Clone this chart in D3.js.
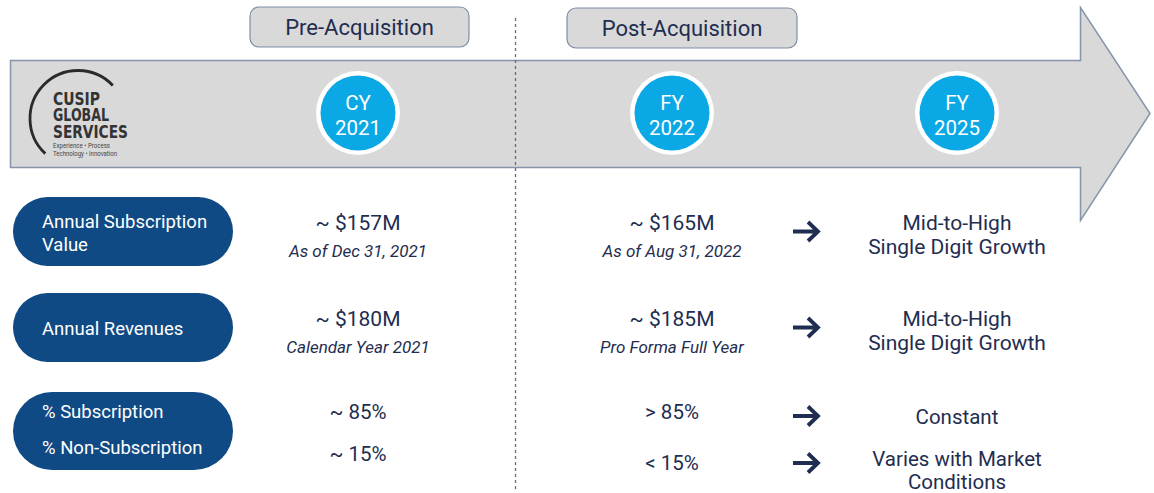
<!DOCTYPE html>
<html><head><meta charset="utf-8">
<script src="https://cdn.jsdelivr.net/npm/d3@7"></script>
<style>
html,body{margin:0;padding:0;background:#fff;}
svg{display:block;font-family:Roboto,"Open Sans",sans-serif;}
</style></head>
<body>
<script>
// ---- data ----
const phases = ["Pre-Acquisition", "Post-Acquisition"];
const periods = [["CY","2021"],["FY","2022"],["FY","2025"]];
const rowLabels = [["Annual Subscription","Value"],["Annual Revenues"],["% Subscription","% Non-Subscription"]];
const preValues = ["~ $157M", "~ $180M"];
const preNotes = ["As of Dec 31, 2021", "Calendar Year 2021"];
const postValues = ["~ $165M", "~ $185M"];
const postNotes = ["As of Aug 31, 2022", "Pro Forma Full Year"];
const outlook = [["Mid-to-High","Single Digit Growth"],["Mid-to-High","Single Digit Growth"]];
const mixPre = ["~ 85%", "~ 15%"];
const mixPost = ["> 85%", "< 15%"];
const mixOutlook = [["Constant"], ["Varies with Market","Conditions"]];
const logoWords = ["CUSIP","GLOBAL","SERVICES"];
const logoTagline = ["Experience • Process","Technology • Innovation"];

const W = 1154, H = 493;
const navy = "#1f2d50", pillBlue = "#0f4a84", circBlue = "#0aa8e4";
const svg = d3.select("body").append("svg").attr("width", W).attr("height", H);

// scales
const colX = d3.scaleOrdinal().domain(["pre","post","arrow","out"]).range([358, 672, 806, 957]);
const periodX = d3.scaleOrdinal().domain(periods.map(d=>d.join(" "))).range([358, 672, 957]);
const phaseX = d3.scaleOrdinal().domain(phases).range([[250,469],[567,797]]);
const rowY = d3.scaleOrdinal().domain([0,1,2]).range([[197,266],[293,362],[392,470]]);
const labelLineY = [[227.5,250.5],[334.5],[417.5,453.5]];

// big arrow
const ap = d3.path();
ap.moveTo(10.5,60.5); ap.lineTo(1080.5,60.5); ap.lineTo(1080.5,7.5); ap.lineTo(1150,113.5);
ap.lineTo(1080.5,220.5); ap.lineTo(1080.5,167.5); ap.lineTo(10.5,167.5); ap.closePath();
svg.append("path").attr("d", ap.toString()).attr("fill","#d9d9d9").attr("stroke","#8595aa").attr("stroke-width",1.5);

// phase pills
phases.forEach((p,i)=>{
  const [x0,x1] = phaseX(p);
  const y0 = i===0?7:8;
  svg.append("rect").attr("x",x0).attr("y",y0).attr("width",x1-x0).attr("height",40).attr("rx",9)
    .attr("fill","#d9d9d9").attr("stroke","#7f8ea4").attr("stroke-width",1.2);
  svg.append("text").attr("x",(x0+x1)/2).attr("y",y0+28).attr("text-anchor","middle")
    .attr("font-size",22).attr("fill",navy).text(p);
});

// dashed divider
svg.append("line").attr("x1",515.5).attr("x2",515.5).attr("y1",18).attr("y2",490)
  .attr("stroke","#5d6e84").attr("stroke-width",1.3).attr("stroke-dasharray","3,3");

// period circles
periods.forEach(p=>{
  const cx = periodX(p.join(" "));
  svg.append("circle").attr("cx",cx).attr("cy",113).attr("r",42).attr("fill","#fff");
  svg.append("circle").attr("cx",cx).attr("cy",113).attr("r",37.5).attr("fill",circBlue);
  svg.append("text").attr("x",cx).attr("y",110).attr("text-anchor","middle").attr("font-size",20.5).attr("fill","#fff").text(p[0]);
  svg.append("text").attr("x",cx).attr("y",135).attr("text-anchor","middle").attr("font-size",20.5).attr("fill","#fff").text(p[1]);
});

// logo
const logo = svg.append("g");
const lp = d3.path();
const lcx = 78, lcy = 118.5, lr = 48;
lp.moveTo(lcx + lr*Math.cos(2.32), lcy + lr*Math.sin(2.32));
lp.arc(lcx, lcy, lr, 2.32, 2*Math.PI - 0.76, false);
logo.append("path").attr("d", lp.toString()).attr("fill","none").attr("stroke","#2a2a2a").attr("stroke-width",2.8);

const sy = 1.35;
const lg = logo.append("g").attr("transform",`translate(53,0) scale(1,${sy})`);
const lt = lg.append("text").attr("font-size",13).attr("font-weight","bold")
  .attr("font-family","'DejaVu Sans Condensed','Liberation Sans Narrow',sans-serif").attr("fill","#333");
const logoY = [105,121.5,138], logoW = [47,56,75];
logoWords.forEach((t,i)=>{
  lt.append("tspan").attr("x",0).attr("y",logoY[i]/sy).attr("textLength",logoW[i])
    .attr("lengthAdjust","spacingAndGlyphs").text(t);
});
const tt = logo.append("text").attr("font-size",6.5).attr("fill","#444");
const tagY = [148,156], tagW = [57,64];
logoTagline.forEach((t,i)=>{
  tt.append("tspan").attr("x",53).attr("y",tagY[i]).attr("textLength",tagW[i])
    .attr("lengthAdjust","spacingAndGlyphs").text(t);
});

// row label pills
rowLabels.forEach((lines,i)=>{
  const [y0,y1] = rowY(i);
  const h = y1-y0;
  svg.append("rect").attr("x",13).attr("y",y0).attr("width",220).attr("height",h).attr("rx",h/2).attr("fill",pillBlue);
  lines.forEach((t,j)=>{
    svg.append("text").attr("x",42).attr("y",labelLineY[i][j]).attr("font-size",18.5).attr("fill","#fff").text(t);
  });
});

function txt(x,y,t,opts={}){
  return svg.append("text").attr("x",x).attr("y",y).attr("text-anchor","middle")
    .attr("font-size",opts.size||21).attr("font-style",opts.italic?"italic":"normal")
    .attr("fill",navy).text(t);
}
function arrow(cx,cy){
  const p = d3.path();
  p.moveTo(cx-13,cy); p.lineTo(cx+11,cy);
  p.moveTo(cx+2,cy-9.5); p.lineTo(cx+12,cy); p.lineTo(cx+2,cy+9.5);
  svg.append("path").attr("d",p.toString()).attr("fill","none").attr("stroke",navy)
    .attr("stroke-width",3.8).attr("stroke-linecap","butt").attr("stroke-linejoin","miter");
}

// rows 1,2
const valY = [229.5, 325.5];
[0,1].forEach(i=>{
  txt(colX("pre"), valY[i], preValues[i]);
  txt(colX("pre"), valY[i]+27, preNotes[i], {italic:true, size:17});
  txt(colX("post"), valY[i], postValues[i]);
  txt(colX("post"), valY[i]+27, postNotes[i], {italic:true, size:17});
  arrow(colX("arrow"), valY[i]+2);
  txt(colX("out"), valY[i], outlook[i][0]);
  txt(colX("out"), valY[i]+24, outlook[i][1]);
});

// row 3
txt(colX("pre"), 419, mixPre[0], {size:20.5});
txt(colX("pre"), 461, mixPre[1], {size:20.5});
txt(colX("post"), 419, mixPost[0], {size:20.5});
txt(colX("post"), 470, mixPost[1], {size:20.5});
arrow(colX("arrow"), 416);
arrow(colX("arrow"), 463);
txt(colX("out"), 424, mixOutlook[0][0], {size:20.5});
txt(colX("out"), 466, mixOutlook[1][0], {size:20.5});
txt(colX("out"), 489, mixOutlook[1][1], {size:20.5});
</script>
</body></html>
